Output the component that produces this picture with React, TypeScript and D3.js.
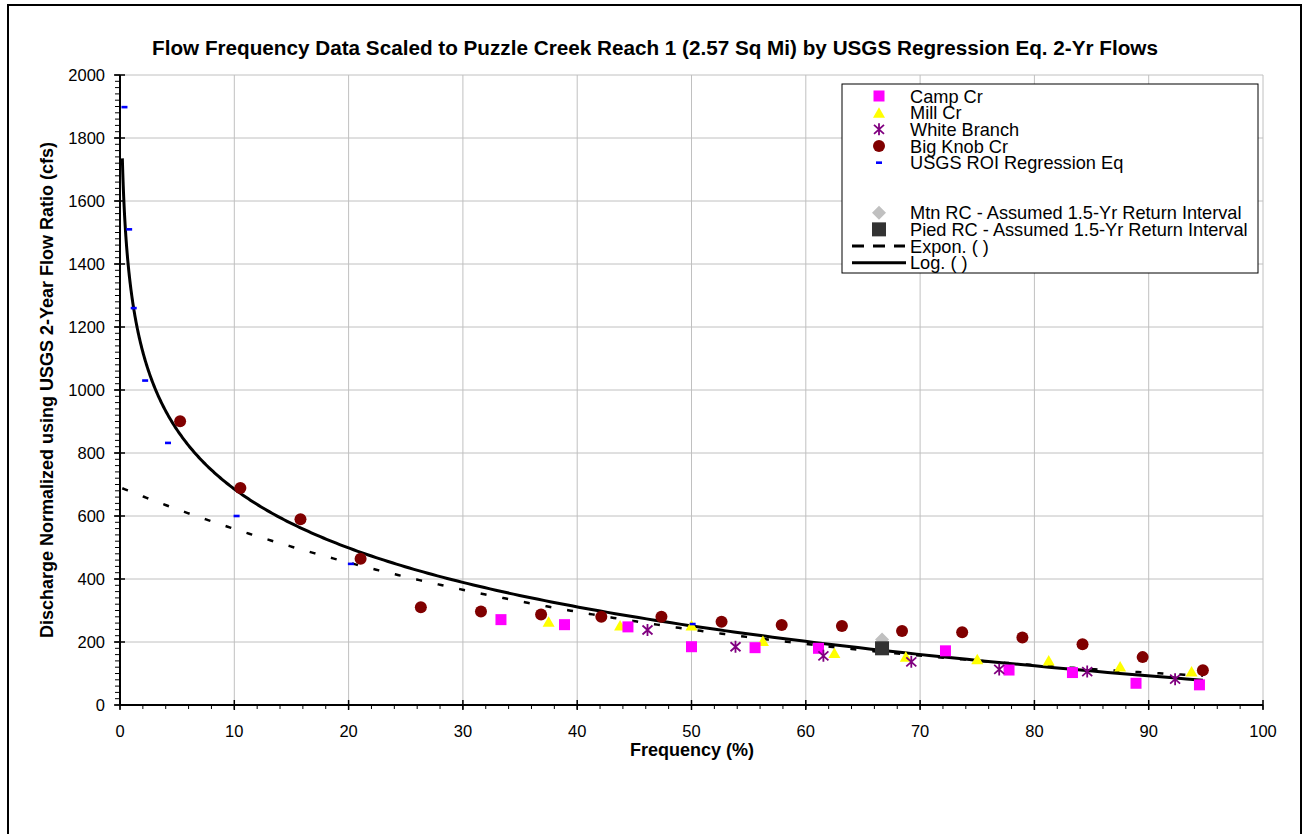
import React from 'react';
import * as d3 from 'd3';

const W = 1305;
const H = 834;

const xTickValues = [0, 10, 20, 30, 40, 50, 60, 70, 80, 90, 100];
const yTickValues = [0, 200, 400, 600, 800, 1000, 1200, 1400, 1600, 1800, 2000];

const campX = [33.33, 38.89, 44.44, 50.0, 55.56, 61.11, 72.22, 77.78, 83.33, 88.89, 94.44];
const campY = [271, 255, 248, 185, 182, 180, 172, 111, 103, 69, 64];

const millX = [37.5, 43.75, 50, 56.25, 62.5, 68.75, 75, 81.25, 87.5, 93.75];
const millY = [264, 252, 252, 203, 165, 153, 145, 141, 122, 106];

const whiteX = [46.15, 53.85, 61.54, 69.23, 76.92, 84.62, 92.31];
const whiteY = [238, 185, 156, 137, 113, 106, 82];

const bigKnobX = [5.26, 10.53, 15.79, 21.05, 26.32, 31.58, 36.84, 42.11, 47.37, 52.63, 57.89, 63.16, 68.42, 73.68, 78.95, 84.21, 89.47, 94.74];
const bigKnobY = [901, 689, 590, 464, 310, 297, 287, 280, 280, 264, 254, 251, 235, 231, 214, 193, 152, 110];

const usgsX = [0.39, 0.8, 1.2, 2.2, 4.2, 10.2, 20.2, 50.1];
const usgsY = [1898, 1510, 1260, 1030, 832, 600, 448, 257];

const mtnX = [66.67];
const mtnY = [208];
const piedX = [66.67];
const piedY = [180];

// trendline coefficients
const logCoef = { a: -270, b: 1307.5, x0: 0.205, x1: 94.74 };
const expCoef = { A: 691, B: -0.0212, x0: 0.2, x1: 94.74 };

const legendLabels = [
  'Camp Cr',
  'Mill Cr',
  'White Branch',
  'Big Knob Cr',
  'USGS ROI Regression Eq',
  '',
  '',
  'Mtn RC - Assumed 1.5-Yr Return Interval',
  'Pied RC - Assumed 1.5-Yr Return Interval',
  'Expon. ( )',
  'Log. ( )',
];

const FONT = '"Liberation Sans", Arial, Helvetica, sans-serif';

function Marker({ kind, cx, cy }: { kind: string; cx: number; cy: number }) {
  switch (kind) {
    case 'camp':
      return <rect x={cx - 5.5} y={cy - 5.5} width={11} height={11} fill="#FF00FF" />;
    case 'mill':
      return (
        <path
          d={`M${cx},${cy - 5.5}L${cx + 6},${cy + 5}L${cx - 6},${cy + 5}Z`}
          fill="#FFFF00"
        />
      );
    case 'white':
      return (
        <path
          d={`M${cx},${cy - 6}L${cx},${cy + 6}M${cx - 5},${cy - 4.5}L${cx + 5},${cy + 4.5}M${cx - 5},${cy + 4.5}L${cx + 5},${cy - 4.5}`}
          stroke="#800080"
          strokeWidth={1.8}
          fill="none"
        />
      );
    case 'big':
      return <circle cx={cx} cy={cy} r={6} fill="#800000" />;
    case 'usgs':
      return <rect x={cx - 3} y={cy - 1.3} width={6} height={2.6} fill="#0000FF" />;
    case 'mtn':
      return (
        <path
          d={`M${cx},${cy - 7}L${cx + 7},${cy}L${cx},${cy + 7}L${cx - 7},${cy}Z`}
          fill="#C0C0C0"
        />
      );
    case 'pied':
      return <rect x={cx - 7} y={cy - 7} width={14} height={14} fill="#333333" />;
    default:
      return null;
  }
}

export default function App() {
  const x = d3.scaleLinear().domain([0, 100]).range([120, 1263]);
  const y = d3.scaleLinear().domain([0, 2000]).range([705, 75]);

  const line = d3
    .line<[number, number]>()
    .x((d) => x(d[0]))
    .y((d) => y(d[1]));

  const logPts: [number, number][] = [];
  const expPts: [number, number][] = [];
  const N = 400;
  for (let i = 0; i <= N; i++) {
    const t = i / N;
    const lx = Math.exp(Math.log(logCoef.x0) + t * (Math.log(logCoef.x1) - Math.log(logCoef.x0)));
    logPts.push([lx, logCoef.a * Math.log(lx) + logCoef.b]);
    const ex = expCoef.x0 + t * (expCoef.x1 - expCoef.x0);
    expPts.push([ex, expCoef.A * Math.exp(expCoef.B * ex)]);
  }

  const xMinor = d3.range(0, 100.01, 2);
  const yMinor = d3.range(0, 2000.01, 20);

  const series = [
    { kind: 'mill', xs: millX, ys: millY },
    { kind: 'camp', xs: campX, ys: campY },
    { kind: 'white', xs: whiteX, ys: whiteY },
    { kind: 'big', xs: bigKnobX, ys: bigKnobY },
    { kind: 'usgs', xs: usgsX, ys: usgsY },
    { kind: 'mtn', xs: mtnX, ys: mtnY },
    { kind: 'pied', xs: piedX, ys: piedY },
  ];

  const legendKinds = ['camp', 'mill', 'white', 'big', 'usgs', '', '', 'mtn', 'pied', 'exp', 'log'];
  const lgX = 842;
  const lgY = 84;
  const rowH = 16.67;

  return (
    <div style={{ position: 'absolute', left: 0, top: 0 }}>
      <svg width={W} height={H} style={{ display: 'block', background: '#fff' }} fontFamily={FONT}>
        <rect x={0} y={0} width={W} height={H} fill="#fff" />
        <rect x={8} y={5} width={1293} height={840} fill="none" stroke="#000" strokeWidth={2} />

        <text x={655} y={55} textAnchor="middle" fontSize={20.7} fontWeight="bold">
          Flow Frequency Data Scaled to Puzzle Creek Reach 1 (2.57 Sq Mi) by USGS Regression Eq. 2-Yr Flows
        </text>

        {/* grid */}
        {xTickValues.slice(1).map((v) => (
          <line key={'gx' + v} x1={x(v)} x2={x(v)} y1={y(0)} y2={y(2000)} stroke="#C0C0C0" strokeWidth={1} />
        ))}
        {yTickValues.slice(1).map((v) => (
          <line key={'gy' + v} x1={x(0)} x2={x(100)} y1={y(v)} y2={y(v)} stroke="#C0C0C0" strokeWidth={1} />
        ))}

        {/* axes */}
        <line x1={x(0)} x2={x(100)} y1={y(0)} y2={y(0)} stroke="#000" strokeWidth={2} />
        <line x1={x(0)} x2={x(0)} y1={y(0)} y2={y(2000)} stroke="#000" strokeWidth={2} />
        {xMinor.map((v) => (
          <line key={'xm' + v} x1={x(v)} x2={x(v)} y1={y(0)} y2={y(0) + 4} stroke="#000" strokeWidth={1} />
        ))}
        {xTickValues.map((v) => (
          <line key={'xM' + v} x1={x(v)} x2={x(v)} y1={y(0) - 5} y2={y(0) + 5} stroke="#000" strokeWidth={1.5} />
        ))}
        {yMinor.map((v) => (
          <line key={'ym' + v} x1={x(0) - 5} x2={x(0)} y1={y(v)} y2={y(v)} stroke="#000" strokeWidth={1} />
        ))}
        {yTickValues.map((v) => (
          <line key={'yM' + v} x1={x(0) - 6} x2={x(0) + 5} y1={y(v)} y2={y(v)} stroke="#000" strokeWidth={1.5} />
        ))}

        {xTickValues.map((v) => (
          <text key={'xl' + v} x={x(v)} y={737} textAnchor="middle" fontSize={16.5}>
            {v}
          </text>
        ))}
        {yTickValues.map((v) => (
          <text key={'yl' + v} x={105} y={y(v)} dy="0.36em" textAnchor="end" fontSize={16.5}>
            {v}
          </text>
        ))}

        <text x={692} y={756} textAnchor="middle" fontSize={18} fontWeight="bold">
          Frequency (%)
        </text>
        <text
          transform="translate(53,390) rotate(-90)"
          textAnchor="middle"
          fontSize={18}
          fontWeight="bold"
        >
          Discharge Normalized using USGS 2-Year Flow Ratio (cfs)
        </text>

        {/* trendlines */}
        <path d={line(expPts) || ''} fill="none" stroke="#000" strokeWidth={2.5} strokeDasharray="6 16" />
        <path d={line(logPts) || ''} fill="none" stroke="#000" strokeWidth={3} />

        {/* markers */}
        {series.map((s) =>
          s.xs.map((xv, i) => <Marker key={s.kind + i} kind={s.kind} cx={x(xv)} cy={y(s.ys[i])} />)
        )}

        {/* legend */}
        <rect x={lgX} y={lgY} width={416} height={189} fill="#fff" stroke="#000" strokeWidth={1} />
        {legendLabels.map((lab, i) => {
          const cy = lgY + 12 + i * rowH;
          const k = legendKinds[i];
          if (!lab) return null;
          return (
            <g key={'lg' + i}>
              {k === 'exp' ? (
                <line x1={852} x2={905} y1={cy} y2={cy} stroke="#000" strokeWidth={3} strokeDasharray="12 9" />
              ) : k === 'log' ? (
                <line x1={852} x2={906} y1={cy} y2={cy} stroke="#000" strokeWidth={3} />
              ) : (
                <Marker kind={k} cx={879} cy={cy} />
              )}
              <text x={910} y={cy} dy="0.36em" fontSize={18.2}>
                {lab}
              </text>
            </g>
          );
        })}
      </svg>
    </div>
  );
}
